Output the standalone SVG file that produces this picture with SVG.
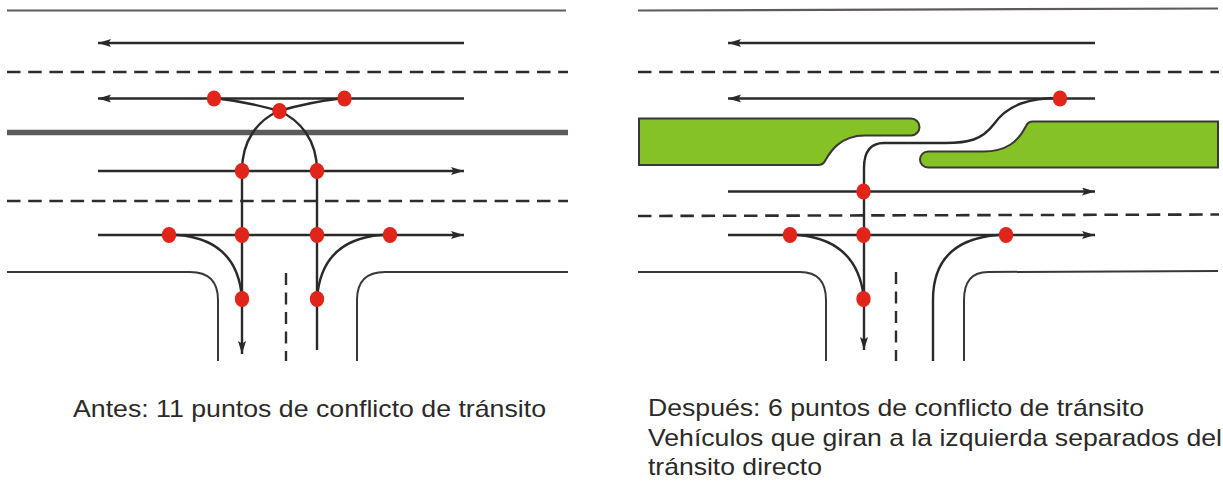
<svg xmlns="http://www.w3.org/2000/svg" width="1223" height="481" viewBox="0 0 1223 481">
<style>
.edge{fill:none;stroke:#3a3837;stroke-width:2}
.edgeT{fill:none;stroke:#5e5a5a;stroke-width:2.2}
.dash{fill:none;stroke:#2f2d2c;stroke-width:2.6;stroke-dasharray:13.5 7.7}
.vdash{fill:none;stroke:#2f2d2c;stroke-width:2.4;stroke-dasharray:12 7.5}
.lane{fill:none;stroke:#2b2a29;stroke-width:2.4}
.head{fill:#2b2a29}
.dot{fill:#e1251b}
.island{fill:#84c225;stroke:#3a3837;stroke-width:2}
.t{font-family:"Liberation Sans",Arial,sans-serif;font-size:24px;fill:#2b2a29}
</style>
<defs>
<marker id="a" markerUnits="userSpaceOnUse" markerWidth="14" markerHeight="10" refX="13" refY="4" orient="auto"><path class="head" d="M0,0 L13,4 L0,8 L2.5,4 Z"/></marker>
</defs>
<rect width="1223" height="481" fill="#ffffff"/>
<g id="road-left">
<path class="edgeT" d="M7,10.500H566"/>
<path class="dash" d="M7,72H568"/>
<path d="M7,132.500H568" fill="none" stroke="#5e5a5a" stroke-width="5.500"/>
<path class="dash" d="M7,201H568"/>
<path class="edge" d="M7,272H190Q218,272 218,300V361"/>
<path class="edge" d="M568,272H385Q357,272 357,300V361"/>
<path class="vdash" d="M286,273V361"/>
</g>
<g id="road-right">
<path class="edgeT" d="M638,10.500L1218,8.500"/>
<path class="dash" d="M638,72H1219"/>
<path class="dash" d="M638,216L1219,214.500"/>
<path class="edge" d="M638,272H800Q826,272 826,300V361"/>
<path class="edge" d="M1218,271L988,272Q964,272 964,300V361"/>
<path class="vdash" d="M896,272V361"/>
</g>
<g id="island-left"><path class="island" d="M639,118.500H911A8.500,8.500 0 0 1 911,135.500H865C840,135.500 830,152 825,161Q823,165 818,165H639Z"/></g>
<g id="island-right"><path class="island" d="M1218,121.500H1033Q1028,121.500 1026,126C1018,142 1006,151.500 983,151.500H928A8,8 0 0 0 928,167.500H1218Z"/></g>
<g id="connectors">
<path class="lane" d="M464,43H98" marker-end="url(#a)"/>
<path class="lane" d="M464,98.500H98" marker-end="url(#a)"/>
<path class="lane" d="M98,171H464" marker-end="url(#a)"/>
<path class="lane" d="M98,235H464" marker-end="url(#a)"/>
<path class="lane" d="M214,98C240,101 262,106 279,111C300,120 317,140 317,171V350"/>
<path class="lane" d="M344,98C318,101 296,106 279,111C258,120 242,140 242,171V354" marker-end="url(#a)"/>
<path class="lane" d="M169,235H178Q238,240 242,299"/>
<path class="lane" d="M390,235H381Q321,240 317,299"/>
<path class="lane" d="M1095,43H728" marker-end="url(#a)"/>
<path class="lane" d="M1095,98.500H728" marker-end="url(#a)"/>
<path class="lane" d="M728,191.500H1095" marker-end="url(#a)"/>
<path class="lane" d="M728,235H1095" marker-end="url(#a)"/>
<path class="lane" d="M1060,98C1030,98 1008,104 994,124C982,140 968,143 945,143H884Q864,143 864,168V350" marker-end="url(#a)"/>
<path class="lane" d="M790,235H798Q858,240 864,299"/>
<path class="lane" d="M1006,235H998Q933,240 933,300V361"/>
</g>
<g id="dot-l1"><ellipse class="dot" cx="214" cy="98.500" rx="7.200" ry="8"/></g>
<g id="dot-l2"><ellipse class="dot" cx="344.500" cy="98.500" rx="7.200" ry="8"/></g>
<g id="dot-l3"><ellipse class="dot" cx="279.500" cy="111" rx="7.200" ry="8"/></g>
<g id="dot-l4"><ellipse class="dot" cx="242" cy="171" rx="7.200" ry="8"/></g>
<g id="dot-l5"><ellipse class="dot" cx="317" cy="171" rx="7.200" ry="8"/></g>
<g id="dot-l6"><ellipse class="dot" cx="169" cy="235" rx="7.200" ry="8"/></g>
<g id="dot-l7"><ellipse class="dot" cx="242" cy="235" rx="7.200" ry="8"/></g>
<g id="dot-l8"><ellipse class="dot" cx="317" cy="235" rx="7.200" ry="8"/></g>
<g id="dot-l9"><ellipse class="dot" cx="390" cy="235" rx="7.200" ry="8"/></g>
<g id="dot-l10"><ellipse class="dot" cx="242" cy="299" rx="7.200" ry="8"/></g>
<g id="dot-l11"><ellipse class="dot" cx="317" cy="299" rx="7.200" ry="8"/></g>
<g id="dot-r1"><ellipse class="dot" cx="1060" cy="98.500" rx="7.200" ry="8"/></g>
<g id="dot-r2"><ellipse class="dot" cx="863.500" cy="191.500" rx="7.200" ry="8"/></g>
<g id="dot-r3"><ellipse class="dot" cx="790" cy="235" rx="7.200" ry="8"/></g>
<g id="dot-r4"><ellipse class="dot" cx="863.500" cy="235" rx="7.200" ry="8"/></g>
<g id="dot-r5"><ellipse class="dot" cx="1006" cy="235" rx="7.200" ry="8"/></g>
<g id="dot-r6"><ellipse class="dot" cx="863.500" cy="299" rx="7.200" ry="8"/></g>
<g id="labels">
<text class="t" x="73" y="417" textLength="473" lengthAdjust="spacingAndGlyphs">Antes: 11 puntos de conflicto de tránsito</text>
<text class="t" x="648" y="416" textLength="496" lengthAdjust="spacingAndGlyphs">Después: 6 puntos de conflicto de tránsito</text>
<text class="t" x="648" y="446" textLength="574" lengthAdjust="spacingAndGlyphs">Vehículos que giran a la izquierda separados del</text>
<text class="t" x="648" y="475" textLength="174" lengthAdjust="spacingAndGlyphs">tránsito directo</text>
</g>
</svg>
